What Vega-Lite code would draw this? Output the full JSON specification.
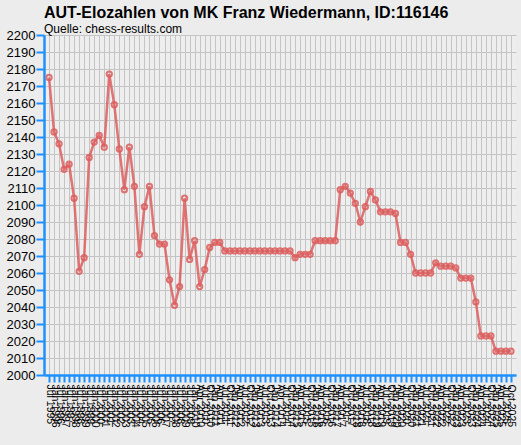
{
  "$schema": "https://vega.github.io/schema/vega-lite/v6.json",
  "autosize": {"type": "none"},
  "padding": {"left": 44, "top": 35, "right": 5, "bottom": 70},
  "width": 472,
  "height": 340,
  "background": "#ececec",
  "title": {
    "text": "AUT-Elozahlen von MK Franz Wiedermann, ID:116146",
    "subtitle": "Quelle: chess-results.com",
    "anchor": "start",
    "frame": "group",
    "font": "Liberation Sans",
    "fontSize": 16,
    "fontWeight": "bold",
    "color": "#000000",
    "subtitleFont": "Liberation Sans",
    "subtitleFontSize": 12,
    "subtitleColor": "#000000",
    "subtitlePadding": 3,
    "offset": -6
  },
  "config": {
    "view": {"fill": "#eeeeee", "stroke": null},
    "axis": {
      "labelFont": "Liberation Sans",
      "labelColor": "#000000",
      "domainColor": "#1e90ff",
      "tickColor": "#1e90ff",
      "gridColor": "#c4c4c4",
      "gridWidth": 1
    }
  },
  "data": {
    "values": [
      {"d": "Jul 1995", "elo": 2175}, {"d": "Jan 1996", "elo": 2143}, {"d": "Jul 1996", "elo": 2136},
      {"d": "Jan 1997", "elo": 2121}, {"d": "Jul 1997", "elo": 2124}, {"d": "Jan 1998", "elo": 2104},
      {"d": "Jul 1998", "elo": 2061}, {"d": "Jan 1999", "elo": 2069}, {"d": "Jul 1999", "elo": 2128},
      {"d": "Jan 2000", "elo": 2137}, {"d": "Jul 2000", "elo": 2141}, {"d": "Jan 2001", "elo": 2134},
      {"d": "Jul 2001", "elo": 2177}, {"d": "Jan 2002", "elo": 2159}, {"d": "Jul 2002", "elo": 2133},
      {"d": "Jan 2003", "elo": 2109}, {"d": "Jul 2003", "elo": 2134}, {"d": "Jan 2004", "elo": 2111},
      {"d": "Jul 2004", "elo": 2071}, {"d": "Jan 2005", "elo": 2099}, {"d": "Jul 2005", "elo": 2111},
      {"d": "Jan 2006", "elo": 2082}, {"d": "Jul 2006", "elo": 2077}, {"d": "Jan 2007", "elo": 2077},
      {"d": "Jul 2007", "elo": 2056}, {"d": "Jan 2008", "elo": 2041}, {"d": "Jul 2008", "elo": 2052},
      {"d": "Jan 2009", "elo": 2104}, {"d": "Jul 2009", "elo": 2068}, {"d": "Jan 2010", "elo": 2079},
      {"d": "Apr 2010", "elo": 2052}, {"d": "Jul 2010", "elo": 2062}, {"d": "Oct 2010", "elo": 2075},
      {"d": "Jan 2011", "elo": 2078}, {"d": "Apr 2011", "elo": 2078}, {"d": "Jul 2011", "elo": 2073},
      {"d": "Oct 2011", "elo": 2073}, {"d": "Jan 2012", "elo": 2073}, {"d": "Apr 2012", "elo": 2073},
      {"d": "Jul 2012", "elo": 2073}, {"d": "Oct 2012", "elo": 2073}, {"d": "Jan 2013", "elo": 2073},
      {"d": "Apr 2013", "elo": 2073}, {"d": "Jul 2013", "elo": 2073}, {"d": "Oct 2013", "elo": 2073},
      {"d": "Jan 2014", "elo": 2073}, {"d": "Apr 2014", "elo": 2073}, {"d": "Jul 2014", "elo": 2073},
      {"d": "Oct 2014", "elo": 2073}, {"d": "Jan 2015", "elo": 2069}, {"d": "Apr 2015", "elo": 2071},
      {"d": "Jul 2015", "elo": 2071}, {"d": "Oct 2015", "elo": 2071}, {"d": "Jan 2016", "elo": 2079},
      {"d": "Apr 2016", "elo": 2079}, {"d": "Jul 2016", "elo": 2079}, {"d": "Oct 2016", "elo": 2079},
      {"d": "Jan 2017", "elo": 2079}, {"d": "Apr 2017", "elo": 2109}, {"d": "Jul 2017", "elo": 2111},
      {"d": "Oct 2017", "elo": 2107}, {"d": "Jan 2018", "elo": 2101}, {"d": "Apr 2018", "elo": 2090},
      {"d": "Jul 2018", "elo": 2099}, {"d": "Oct 2018", "elo": 2108}, {"d": "Jan 2019", "elo": 2103},
      {"d": "Apr 2019", "elo": 2096}, {"d": "Jul 2019", "elo": 2096}, {"d": "Oct 2019", "elo": 2096},
      {"d": "Jan 2020", "elo": 2095}, {"d": "Apr 2020", "elo": 2078}, {"d": "Jul 2020", "elo": 2078},
      {"d": "Oct 2020", "elo": 2071}, {"d": "Jan 2021", "elo": 2060}, {"d": "Apr 2021", "elo": 2060},
      {"d": "Jul 2021", "elo": 2060}, {"d": "Oct 2021", "elo": 2060}, {"d": "Jan 2022", "elo": 2066},
      {"d": "Apr 2022", "elo": 2064}, {"d": "Jul 2022", "elo": 2064}, {"d": "Oct 2022", "elo": 2064},
      {"d": "Jan 2023", "elo": 2063}, {"d": "Apr 2023", "elo": 2057}, {"d": "Jul 2023", "elo": 2057},
      {"d": "Oct 2023", "elo": 2057}, {"d": "Jan 2024", "elo": 2043}, {"d": "Apr 2024", "elo": 2023},
      {"d": "Jul 2024", "elo": 2023}, {"d": "Oct 2024", "elo": 2023}, {"d": "Jan 2025", "elo": 2014},
      {"d": "Apr 2025", "elo": 2014}, {"d": "Jul 2025", "elo": 2014}, {"d": "Oct 2025", "elo": 2014}
    ]
  },
  "mark": {
    "type": "line",
    "color": "#dd5e5e",
    "strokeWidth": 2.5,
    "opacity": 0.85,
    "point": {"filled": false, "size": 28, "strokeWidth": 2, "color": "#dd5e5e", "opacity": 0.85}
  },
  "encoding": {
    "x": {
      "field": "d",
      "type": "ordinal",
      "sort": null,
      "title": null,
      "scale": {"type": "point", "padding": 1},
      "axis": {
        "labelAngle": 90,
        "labelFontSize": 10.5,
        "labelOverlap": false,
        "labelPadding": 2,
        "domainWidth": 2.5,
        "tickWidth": 2,
        "tickSize": 7,
        "grid": true
      }
    },
    "y": {
      "field": "elo",
      "type": "quantitative",
      "title": null,
      "scale": {"domain": [2000, 2200], "nice": false, "zero": false},
      "axis": {
        "values": [2000, 2010, 2020, 2030, 2040, 2050, 2060, 2070, 2080, 2090, 2100, 2110, 2120, 2130, 2140, 2150, 2160, 2170, 2180, 2190, 2200],
        "format": "d",
        "labelFontSize": 13,
        "labelPadding": 1,
        "domainWidth": 2.5,
        "tickWidth": 2,
        "tickSize": 8,
        "grid": true
      }
    }
  }
}
